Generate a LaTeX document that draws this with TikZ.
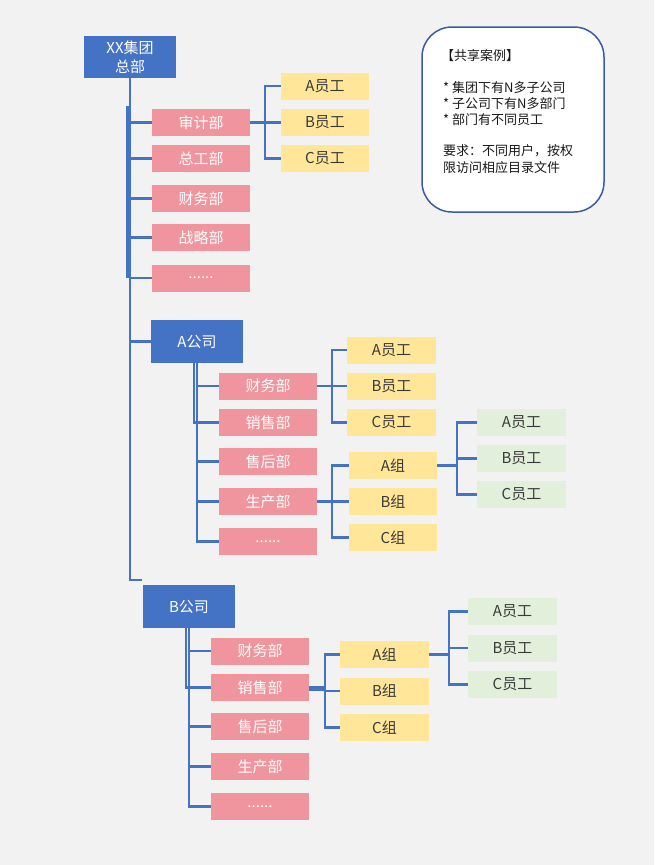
\documentclass[tikz,border=0pt]{standalone}
\usepackage{fontspec}
\newfontfamily\cjk{Noto Sans CJK SC}
\definecolor{bgc}{HTML}{F2F2F2}
\definecolor{blu}{HTML}{4472C4}
\definecolor{pnk}{HTML}{F0959E}
\definecolor{ylw}{HTML}{FFE699}
\definecolor{grn}{HTML}{E2EFDA}
\definecolor{etx}{HTML}{3A3A3A}
\definecolor{nbd}{HTML}{3A5BA5}
\begin{document}
\begin{tikzpicture}[x=1pt,y=-1pt,
  font=\cjk\fontsize{15}{19}\selectfont,
  hqbox/.style={fill=blu,text=white,minimum width=92pt,minimum height=43pt,inner sep=0pt,align=center},
  dept/.style={fill=pnk,text=white,minimum width=98pt,minimum height=27pt,inner sep=0pt},
  emp/.style={fill=ylw,text=etx,minimum width=88pt,minimum height=27pt,inner sep=0pt},
  gemp/.style={fill=grn,text=etx,minimum width=89pt,minimum height=27pt,inner sep=0pt},
  conn/.style={draw=blu,line width=2.3pt},
  notetxt/.style={anchor=base west,inner sep=0pt,text=black!90,font=\cjk\fontsize{13}{16}\selectfont}]
\fill[bgc] (0,0) rectangle (654,865);
\useasboundingbox (0,0) rectangle (654,865);

% note box
\draw[nbd,line width=1.5pt,fill=white,rounded corners=30pt] (422,27) rectangle (604,212);
\node[notetxt] (n1) at (441,60) {【共享案例】};
\node[notetxt] (n2) at (443,92) {* 集团下有N多子公司};
\node[notetxt] (n3) at (443,108) {* 子公司下有N多部门};
\node[notetxt] (n4) at (443,124) {* 部门有不同员工};
\node[notetxt] (n5) at (443,155) {要求：不同用户，按权};
\node[notetxt] (n6) at (443,172) {限访问相应目录文件};

% HQ
\node[hqbox,minimum height=42pt] (hq) at (130,57) {XX集团\\总部};
\node[dept] (sj) at (201,122.5) {审计部};
\node[dept] (zg) at (201,158.5) {总工部};
\node[dept] (cw) at (201,198.5) {财务部};
\node[dept] (zl) at (201,237.5) {战略部};
\node[dept] (hqm) at (201,278) {......};
\node[emp] (e1) at (325,86) {A员工};
\node[emp] (e2) at (325,122.5) {B员工};
\node[emp] (e3) at (325,158.5) {C员工};

% A company
\node[hqbox] (ac) at (197,341.5) {A公司};
\node[dept] (acw) at (268,386) {财务部};
\node[dept] (axs) at (268,422.5) {销售部};
\node[dept] (ash) at (268,461.5) {售后部};
\node[dept] (asc) at (268,501.5) {生产部};
\node[dept] (am) at (268,541.5) {......};
\node[emp,minimum width=89pt] (ae1) at (391.5,350) {A员工};
\node[emp,minimum width=89pt] (ae2) at (391.5,386) {B员工};
\node[emp,minimum width=89pt] (ae3) at (391.5,422.5) {C员工};
\node[emp] (ag1) at (393,465.5) {A组};
\node[emp] (ag2) at (393,501.5) {B组};
\node[emp] (ag3) at (393,537.5) {C组};
\node[gemp] (ge1) at (521.5,422.5) {A员工};
\node[gemp] (ge2) at (521.5,458.5) {B员工};
\node[gemp] (ge3) at (521.5,494.5) {C员工};

% B company
\node[hqbox] (bc) at (189,606.5) {B公司};
\node[dept] (bcw) at (260,651) {财务部};
\node[dept] (bxs) at (260,687.5) {销售部};
\node[dept] (bsh) at (260,726.5) {售后部};
\node[dept] (bsc) at (260,766.5) {生产部};
\node[dept] (bm) at (260,806.5) {......};
\node[emp,minimum width=89pt] (bg1) at (384.5,654.5) {A组};
\node[emp,minimum width=89pt] (bg2) at (384.5,691) {B组};
\node[emp,minimum width=89pt] (bg3) at (384.5,727.5) {C组};
\node[gemp] (be1) at (512.5,611.5) {A员工};
\node[gemp] (be2) at (512.5,648) {B员工};
\node[gemp] (be3) at (512.5,684.5) {C员工};

% bus coordinates
\coordinate (hqx1) at (127.5,106);
\coordinate (hqx2) at (127.5,278);
\coordinate (bjoin) at (142,580);
\coordinate (sjbus) at (265,122.5);
\coordinate (acwbus) at (332,386);
\coordinate (ascbus) at (332,501.5);
\coordinate (ag1bus) at (457,465.5);
\coordinate (bxsbus) at (325,689);
\coordinate (bg1bus) at (449,654.5);

% HQ connectors
\foreach \d in {sj,zg,cw,zl,hqm,ac} \draw[conn] (hq.south) |- (\d.west);
\draw[conn] (hq.south) |- (bjoin);
\draw[conn] (hqx1) -- (hqx2);
\foreach \e in {e1,e2,e3} \draw[conn] (sj.east) -- (sjbus) |- (\e.west);

% A connectors
\foreach \d in {acw,ash,asc,am} \draw[conn] (ac.south) |- (\d.west);
\draw[conn] ([xshift=-3pt]ac.south) |- (axs.west);
\foreach \e in {ae1,ae2,ae3} \draw[conn] (acw.east) -- (acwbus) |- (\e.west);
\foreach \e in {ag1,ag2,ag3} \draw[conn] (asc.east) -- (ascbus) |- (\e.west);
\foreach \e in {ge1,ge2,ge3} \draw[conn] (ag1.east) -- (ag1bus) |- (\e.west);

% B connectors
\foreach \d in {bcw,bsh,bsc,bm} \draw[conn] (bc.south) |- (\d.west);
\draw[conn] ([xshift=-3pt]bc.south) |- (bxs.west);
\draw[conn] (bxs.east) -- (bxs.east -| bxsbus);
\draw[conn] ([yshift=-2.5pt]bxs.east) -- ([yshift=-2.5pt]bxs.east -| bxsbus);
\foreach \e in {bg1,bg2,bg3} \draw[conn] (bxsbus) |- (\e.west);
\foreach \e in {be1,be2,be3} \draw[conn] (bg1.east) -- (bg1bus) |- (\e.west);
\end{tikzpicture}
\end{document}
